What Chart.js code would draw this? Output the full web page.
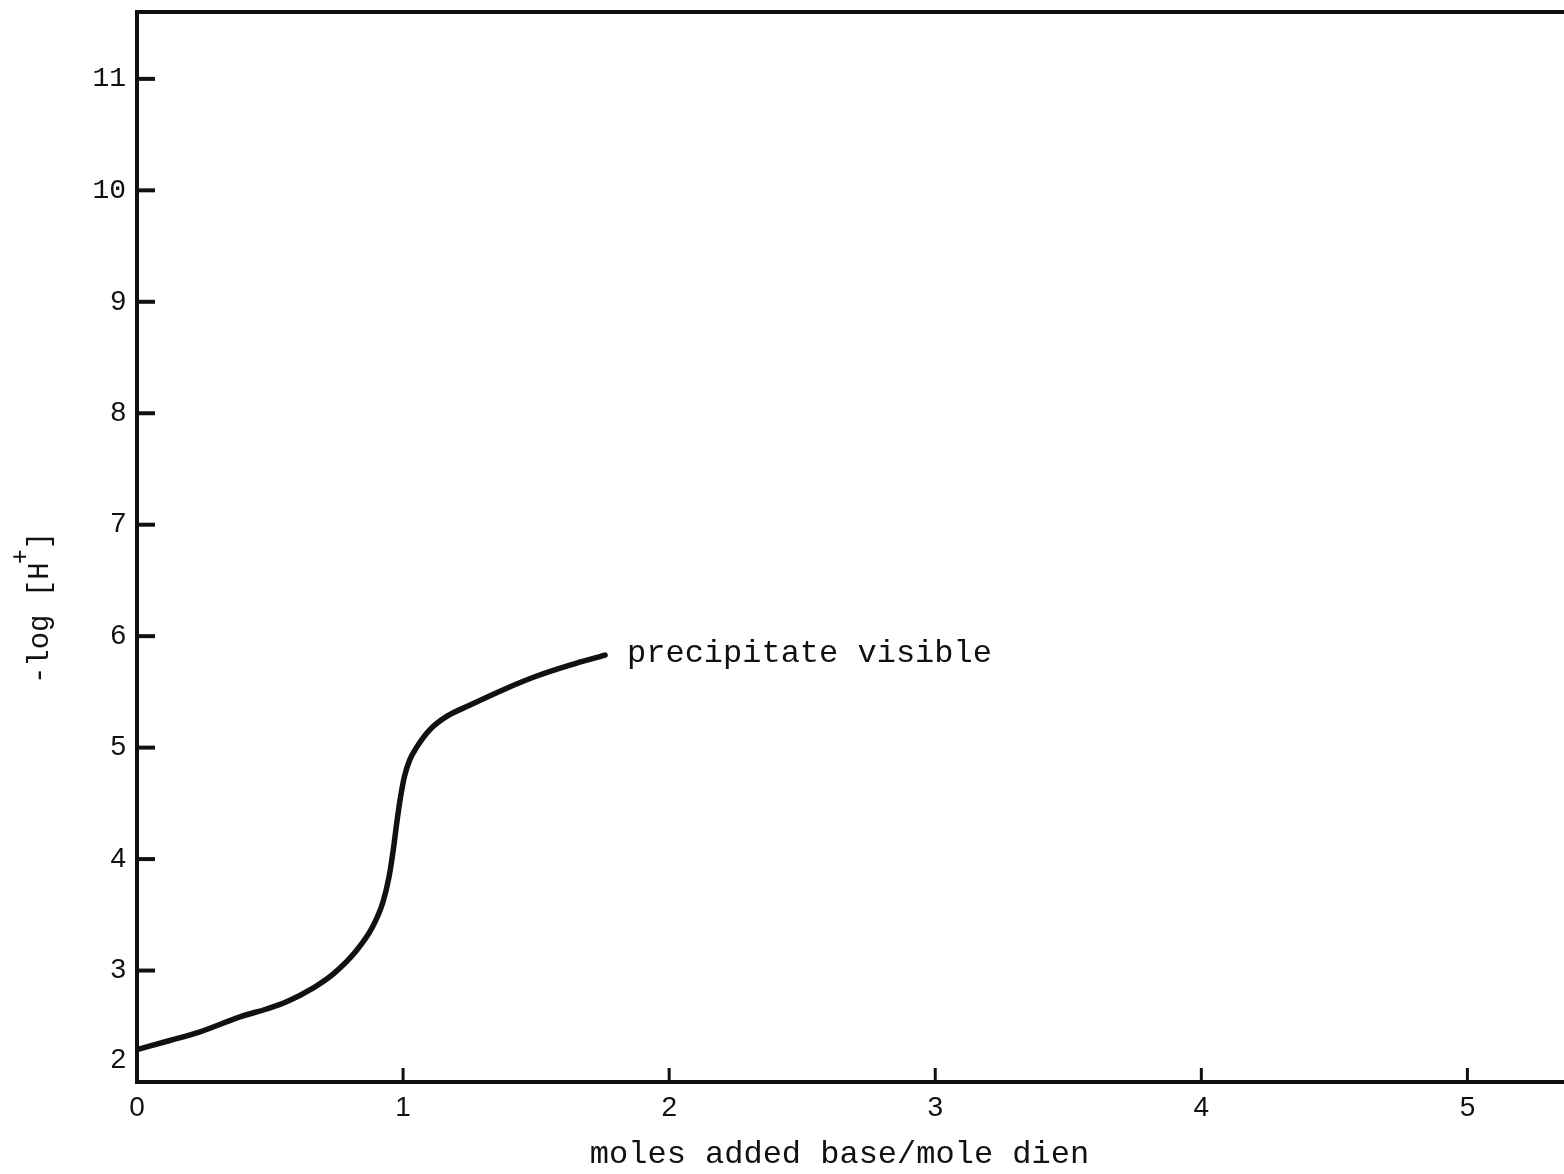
<!DOCTYPE html>
<html>
<head>
<meta charset="utf-8">
<script src="https://cdn.jsdelivr.net/npm/chart.js@4.4.1/dist/chart.umd.min.js"></script>
<style>
  html, body { margin: 0; padding: 0; background: #fff; overflow: hidden; }
  #wrap { width: 1564px; height: 1174px; position: relative; }
</style>
</head>
<body>
<div id="wrap"><canvas id="c" width="1564" height="1174"></canvas></div>
<script>
// Titration curve: -log[H+] against moles of added base per mole dien
const molesBase = [0, 0.12, 0.237, 0.387, 0.487, 0.562, 0.663, 0.738, 0.825, 0.885, 0.925, 0.948, 0.963, 0.976, 0.99, 1.005, 1.025, 1.05, 1.10, 1.164, 1.25, 1.377, 1.50, 1.627, 1.759];
const negLogH   = [2.29, 2.37, 2.45, 2.585, 2.655, 2.72, 2.845, 2.97, 3.18, 3.39, 3.62, 3.85, 4.08, 4.32, 4.55, 4.74, 4.89, 5.0, 5.16, 5.28, 5.38, 5.52, 5.64, 5.74, 5.83];

const xTicks = [0, 1, 2, 3, 4, 5];
const yTicks = [2, 3, 4, 5, 6, 7, 8, 9, 10, 11];
const noteText = 'precipitate visible';
const xTitle = 'moles added base/mole dien';

const INK = '#111';
const MONO = '"Liberation Mono", "DejaVu Sans Mono", monospace';
const SANS = '"Liberation Sans", Arial, sans-serif';

// Frame, inward tick marks, tick labels, axis titles and annotation
const axesPlugin = {
  id: 'typedAxes',
  afterDatasetsDraw(chart) {
    const ctx = chart.ctx;
    const xs = chart.scales.x, ys = chart.scales.y;
    const a = chart.chartArea;
    ctx.save();
    ctx.strokeStyle = INK;
    ctx.fillStyle = INK;
    ctx.lineCap = 'butt';

    // frame: top, left, bottom (right edge runs off the page)
    ctx.lineWidth = 4;
    ctx.beginPath();
    ctx.moveTo(a.right + 10, a.top);
    ctx.lineTo(a.left, a.top);
    ctx.lineTo(a.left, a.bottom);
    ctx.lineTo(a.right + 10, a.bottom);
    ctx.stroke();

    // y tick marks and labels
    ctx.lineWidth = 4;
    ctx.textAlign = 'right';
    ctx.textBaseline = 'middle';
    yTicks.forEach(v => {
      const py = ys.getPixelForValue(v);
      if (v !== yTicks[0]) {
        ctx.beginPath();
        ctx.moveTo(a.left, py);
        ctx.lineTo(a.left + 18, py);
        ctx.stroke();
      }
      const lbl = String(v);
      ctx.font = lbl.length > 1 ? '28px ' + MONO : '28px ' + SANS;
      const off = v === yTicks[0] ? -22 : 0;
      ctx.fillText(lbl, a.left - 11, py + off);
    });

    // x tick marks and labels
    ctx.textAlign = 'center';
    ctx.textBaseline = 'middle';
    ctx.font = '28px ' + SANS;
    xTicks.forEach(v => {
      const px = xs.getPixelForValue(v);
      if (v !== xTicks[0]) {
        ctx.lineWidth = 3;
        ctx.beginPath();
        ctx.moveTo(px, a.bottom);
        ctx.lineTo(px, a.bottom - 14);
        ctx.stroke();
      }
      ctx.fillText(String(v), px, a.bottom + 26);
    });

    // x axis title
    ctx.font = '32px ' + MONO;
    ctx.textAlign = 'center';
    ctx.fillText(xTitle, xs.getPixelForValue(2.64), 1155);

    // y axis title with superscript
    ctx.save();
    ctx.translate(40, 606);
    ctx.rotate(-Math.PI / 2);
    ctx.textAlign = 'left';
    ctx.textBaseline = 'middle';
    ctx.font = '29px ' + MONO;
    const part1 = '-log [H';
    const w1 = ctx.measureText(part1).width;
    const wPlus = 17;
    const w2 = ctx.measureText(']').width;
    const total = w1 + wPlus + w2;
    let cx = -total / 2;
    ctx.fillText(part1, cx, 0);
    cx += w1;
    ctx.font = '25px ' + MONO;
    ctx.fillText('+', cx - 2, -19);
    ctx.font = '29px ' + MONO;
    ctx.fillText(']', cx + wPlus - 4, 0);
    ctx.restore();

    // annotation at the end of the curve
    const last = molesBase.length - 1;
    ctx.font = '32px ' + MONO;
    ctx.textAlign = 'left';
    ctx.textBaseline = 'middle';
    ctx.fillText(noteText, xs.getPixelForValue(molesBase[last]) + 22, ys.getPixelForValue(negLogH[last]) - 2);

    ctx.restore();
  }
};

new Chart(document.getElementById('c'), {
  type: 'line',
  data: {
    datasets: [{
      data: molesBase.map((x, i) => ({ x, y: negLogH[i] })),
      borderColor: INK,
      borderWidth: 5.5,
      pointRadius: 0,
      fill: false,
      cubicInterpolationMode: 'monotone',
      borderCapStyle: 'round',
      borderJoinStyle: 'round'
    }]
  },
  options: {
    responsive: false,
    animation: false,
    events: [],
    layout: { padding: { left: 137, top: 12, right: 0, bottom: 92 } },
    plugins: { legend: { display: false }, tooltip: { enabled: false } },
    scales: {
      x: { type: 'linear', min: 0, max: 5.363, display: false },
      y: { type: 'linear', min: 2, max: 11.6, display: false }
    }
  },
  plugins: [axesPlugin]
});
</script>
</body>
</html>
